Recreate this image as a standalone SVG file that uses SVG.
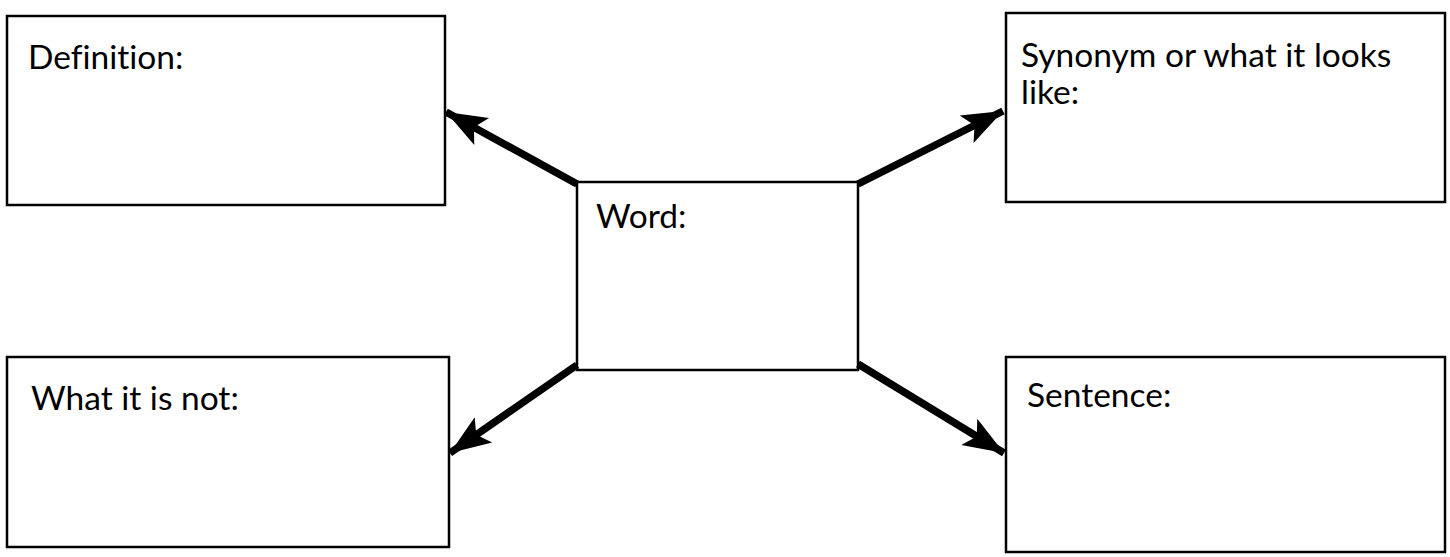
<svg xmlns="http://www.w3.org/2000/svg" width="1450" height="557" viewBox="0 0 1450 557">
<style>
.box{fill:#fff;stroke:#000;stroke-width:2.5}
.lbl{font-family:Lato,"Open Sans","Liberation Sans",sans-serif;font-size:33.5px;fill:#000;font-variant-ligatures:none}
.conn{stroke:#000;stroke-width:7.5;fill:none}
</style>
<defs>
<marker id="ah" markerUnits="userSpaceOnUse" markerWidth="44" markerHeight="34" viewBox="-38 -15 40 30" refX="0" refY="0" orient="auto">
<path d="M0,0 L-37,-14 L-29,0 L-37,14 Z" fill="#000"/>
</marker>
</defs>
<g id="node-definition">
<rect class="box" x="7" y="16" width="438" height="189"/>
<text class="lbl" x="28" y="69">Definition:</text>
</g>
<g id="node-synonym">
<rect class="box" x="1006" y="13" width="439" height="189"/>
<text class="lbl" x="1021" y="67">Synonym or what it looks<tspan x="1021" y="104">like:</tspan></text>
</g>
<g id="node-word">
<rect class="box" x="577" y="182" width="281" height="188"/>
<text class="lbl" x="596" y="228">Word:</text>
</g>
<g id="node-not">
<rect class="box" x="7" y="357" width="442" height="190"/>
<text class="lbl" x="31" y="410">What it is not:</text>
</g>
<g id="node-sentence">
<rect class="box" x="1006" y="357" width="439" height="195"/>
<text class="lbl" x="1027" y="407">Sentence:</text>
</g>
<g id="connectors">
<line class="conn" x1="577" y1="184" x2="446" y2="112" marker-end="url(#ah)"/>
<line class="conn" x1="858" y1="184" x2="1003" y2="111" marker-end="url(#ah)"/>
<line class="conn" x1="577" y1="365" x2="450" y2="453" marker-end="url(#ah)"/>
<line class="conn" x1="858" y1="364" x2="1004" y2="453" marker-end="url(#ah)"/>
</g>
</svg>
